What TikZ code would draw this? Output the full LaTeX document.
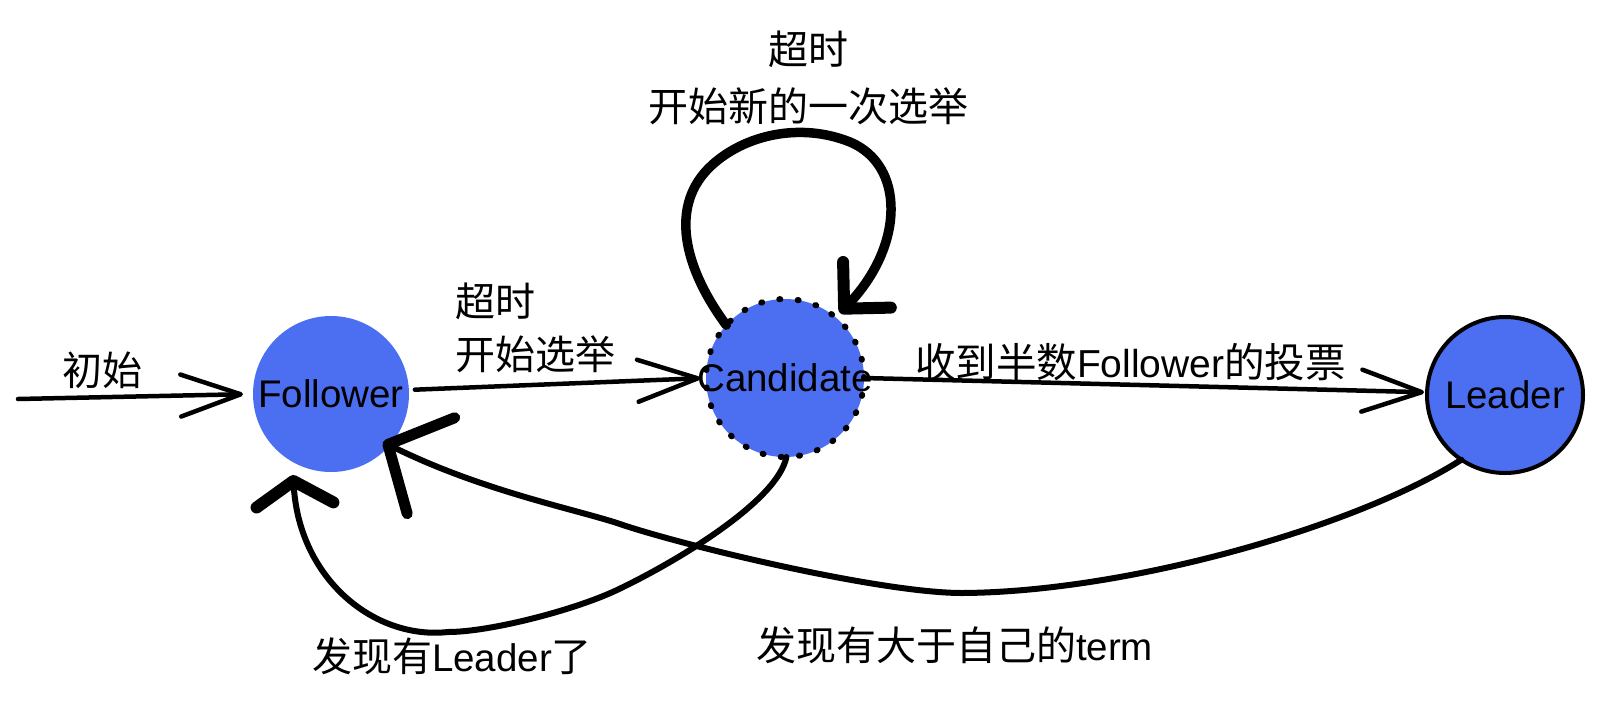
\documentclass[tikz,border=0pt]{standalone}
\usepackage{fontspec}
\setmainfont{Liberation Sans}
\newfontfamily\cjk{Noto Sans CJK SC}[Scale=1.039]
\usetikzlibrary{arrows.meta,calc}
\definecolor{stateblue}{RGB}{76,111,242}
\begin{document}
\begin{tikzpicture}[x=1pt,y=-1pt,
  state/.style={circle, fill=stateblue, inner sep=0pt, outer sep=0pt,
    font=\fontsize{38.5}{46}\selectfont},
  lbl/.style={inner sep=0pt, outer sep=0pt, font=\fontsize{38.5}{46}\selectfont},
  thinarrow/.style={line width=4.5pt, line cap=round,
    -{Straight Barb[length=60pt,width=42pt,round]}},
  loopline/.style={line width=9.5pt, line cap=round, line join=round,
    -{Straight Barb[length=33pt,width=66pt,line width=12pt,round]}},
  backline/.style={line width=6pt, line cap=round, line join=round}
]
\useasboundingbox[fill=white] (0,0) rectangle (1603,705);

% states
\node[state, minimum size=156pt] (Follower) at (331,394) {\makebox[0pt]{Follower}};
\node[state, minimum size=158pt, draw=black, line width=6pt, line cap=round,
  dash pattern=on 1pt off 17.4pt] (Candidate) at (785,378) {\makebox[0pt]{Candidate}};
\node[state, minimum size=156pt, draw=black, line width=4pt] (Leader) at (1505,395) {\makebox[0pt]{Leader}};

% labels
\node[lbl] (init) at (102.5,370) {\cjk 初始};
\node[lbl, anchor=west, align=left, font=\fontsize{38.5}{53}\selectfont\cjk] (elect) at (455,328) {超时\\开始选举};
\node[lbl, align=center, font=\fontsize{38.5}{57}\selectfont\cjk] (retry) at (808,77.5) {超时\\开始新的一次选举};
\node[lbl, font=\fontsize{39}{47}\selectfont] (votes) at (1130.5,362) {{\cjk 收到半数}Follower{\cjk 的投票}};
\node[lbl] (foundleader) at (452,656) {{\cjk 发现有}Leader{\cjk 了}};
\node[lbl] (foundterm) at (954.5,645) {{\cjk 发现有大于自己的}term};

% connectors
\coordinate (start) at (18,399);
\draw[thinarrow, shorten >=10pt] (start) -- (Follower.west);
\draw[thinarrow, shorten <=6pt, shorten >=6pt] (Follower.3) -- (Candidate.west);
\draw[thinarrow, shorten >=3pt] (Candidate.east) -- (Leader.178);

\draw[loopline] (Candidate.138) .. controls (684,268) and (668,205) .. (712,165)
  .. controls (745,135) and (800,122) .. (850,142)
  .. controls (905,165) and (905,245) .. ($(Candidate)+(55,-65)$);

\draw[backline, -{Straight Barb[length=24pt,width=77pt,line width=12pt,round]}]
  (Candidate.271) .. controls (778,500) and (680,560) .. (617,590)
  .. controls (575,610) and (490,632) .. (448,632)
  .. controls (375,640) and (300,580) .. ($(Follower)+(-38,81)$);

\draw[backline, -{Straight Barb[length=48pt,width=107pt,line width=11pt,round]}]
  (Leader.236) .. controls (1360,525) and (1130,592) .. (962,593)
  .. controls (880,593) and (680,545) .. (617,523)
  .. controls (570,508) and (480,490) .. ($(Follower)+(52,48)$);
\end{tikzpicture}
\end{document}
